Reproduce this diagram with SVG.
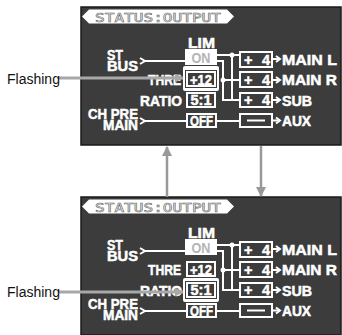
<svg xmlns="http://www.w3.org/2000/svg" xmlns:xlink="http://www.w3.org/1999/xlink" width="342" height="335" viewBox="0 0 342 335">
<style>
.scr{fill:#3c3c3c;stroke:#1a1a1a;stroke-width:1.5}
.t{font-family:"Liberation Sans","DejaVu Sans",sans-serif;font-weight:bold;fill:#fff;font-size:14.5px;stroke:#fff;stroke-width:0.5}
.tt{font-family:"DejaVu Sans Mono","Liberation Mono",monospace;fill:#fff;stroke:#666;stroke-width:0.6;font-size:13px}
.w{stroke:#fff;stroke-width:2;fill:none}
.bx{stroke:#fff;stroke-width:2;fill:#3c3c3c}
.ld{stroke:#a8a8a8;stroke-width:3;fill:none}
.lbl{font-family:"Liberation Sans",Arial,sans-serif;font-size:14px;fill:#111}
</style>
<defs>
<marker id="ah" viewBox="0 0 10 10" refX="9" refY="5" markerWidth="3" markerHeight="3" orient="auto"><path d="M0,0L10,5L0,10z" fill="#a8a8a8"/></marker>
<marker id="ag" viewBox="0 0 10 10" refX="9" refY="5" markerWidth="4" markerHeight="5" orient="auto"><path d="M0,0L10,5L0,10z" fill="#999"/></marker>
<g id="base">
<rect class="scr" x="81" y="7" width="260" height="138"/>
<polygon points="82,16.5 89,9.5 227,9.5 234,16.5 227,23.5 89,23.5" fill="#fff"/>
<text class="tt" x="95" y="21.5" textLength="126" lengthAdjust="spacingAndGlyphs">STATUS:OUTPUT</text>
<text class="t" x="188" y="48" textLength="27" lengthAdjust="spacingAndGlyphs">LIM</text>
<text class="t" x="107" y="60" textLength="16" lengthAdjust="spacingAndGlyphs">ST</text>
<text class="t" x="107" y="70.5" textLength="31" lengthAdjust="spacingAndGlyphs">BUS</text>
<text class="t" x="148" y="85" textLength="33" lengthAdjust="spacingAndGlyphs">THRE</text>
<text class="t" x="140" y="105.5" textLength="42" lengthAdjust="spacingAndGlyphs">RATIO</text>
<text class="t" x="88" y="118.5" textLength="50" lengthAdjust="spacingAndGlyphs">CH PRE</text>
<text class="t" x="103" y="129.5" textLength="35" lengthAdjust="spacingAndGlyphs">MAIN</text>
<polyline class="w" points="140,58 145,61 140,64"/>
<line class="w" x1="145" y1="61" x2="185" y2="61"/>
<polyline class="w" points="140,118 145,121 140,124"/>
<line class="w" x1="145" y1="121" x2="186" y2="121"/>
<rect x="185" y="49" width="32" height="16" fill="#fff"/>
<text class="t" x="201" y="62.5" text-anchor="middle" style="fill:#b4b4b4;stroke:none" textLength="19" lengthAdjust="spacingAndGlyphs">ON</text>
<rect class="bx" x="187" y="93" width="28" height="14"/>
<text class="t" x="201" y="105" text-anchor="middle" textLength="21" lengthAdjust="spacingAndGlyphs">5:1</text>
<rect class="bx" x="187" y="114" width="29" height="13"/>
<text class="t" x="201.5" y="125.5" text-anchor="middle" textLength="23" lengthAdjust="spacingAndGlyphs">OFF</text>
<g id="conn">
<polyline class="w" points="217,55 240,55"/>
<polyline class="w" points="217,61 223,61 223,100 240,100"/>
<polyline class="w" points="232,55 232,100"/>
<line class="w" x1="223" y1="80" x2="240" y2="80"/>
<circle cx="232" cy="55" r="2.5" fill="#fff"/>
<circle cx="223" cy="80" r="2.5" fill="#fff"/>
<line class="w" x1="216" y1="121" x2="240" y2="121"/>
</g>
<rect class="bx" x="240" y="52" width="32" height="15"/>
<rect class="bx" x="240" y="72" width="32" height="15"/>
<rect class="bx" x="240" y="93" width="32" height="14"/>
<rect class="bx" x="240" y="114" width="32" height="13"/>
<text class="t" x="244" y="64.5">+</text><text class="t" x="262" y="64.5">4</text>
<text class="t" x="244" y="84.5">+</text><text class="t" x="262" y="84.5">4</text>
<text class="t" x="244" y="105">+</text><text class="t" x="262" y="105">4</text>
<line class="w" x1="247" y1="120.5" x2="265" y2="120.5"/>
<line class="w" x1="272" y1="59" x2="280" y2="59"/><polyline class="w" points="276,56 280,59 276,62"/>
<line class="w" x1="272" y1="80" x2="280" y2="80"/><polyline class="w" points="276,77 280,80 276,83"/>
<line class="w" x1="272" y1="100" x2="280" y2="100"/><polyline class="w" points="276,97 280,100 276,103"/>
<line class="w" x1="272" y1="120.5" x2="280" y2="120.5"/><polyline class="w" points="276,117.5 280,120.5 276,123.5"/>
<text class="t" x="282" y="65" textLength="55" lengthAdjust="spacingAndGlyphs">MAIN L</text>
<text class="t" x="282" y="85" textLength="55" lengthAdjust="spacingAndGlyphs">MAIN R</text>
<text class="t" x="282" y="105.5" textLength="30" lengthAdjust="spacingAndGlyphs">SUB</text>
<text class="t" x="282" y="125.5" textLength="29" lengthAdjust="spacingAndGlyphs">AUX</text>
</g>
</defs>
<g id="screen-top">
<use xlink:href="#base"/>
<rect x="183" y="66" width="36" height="25" rx="2" fill="#fff"/>
<rect x="185" y="70" width="32" height="18" fill="#3c3c3c"/>
<rect class="bx" x="187" y="72" width="28" height="14"/>
<text class="t" x="201" y="84.5" text-anchor="middle" textLength="22" lengthAdjust="spacingAndGlyphs">+12</text>
</g>
<g id="screen-bottom" transform="translate(0,190)">
<use xlink:href="#base"/>
<rect class="bx" x="187" y="72" width="28" height="14"/>
<text class="t" x="201" y="84.5" text-anchor="middle" textLength="22" lengthAdjust="spacingAndGlyphs">+12</text>
<rect x="183" y="88" width="36" height="24" rx="2" fill="#fff"/>
<rect x="185" y="91" width="32" height="18" fill="#3c3c3c"/>
<rect class="bx" x="187" y="93" width="28" height="14"/>
<text class="t" x="201" y="105" text-anchor="middle" textLength="21" lengthAdjust="spacingAndGlyphs">5:1</text>
</g>
<g id="connectors">
<line x1="167" y1="197" x2="167" y2="147" stroke="#999" stroke-width="2.5" marker-end="url(#ag)"/>
<line x1="261" y1="146" x2="261" y2="196" stroke="#999" stroke-width="2.5" marker-end="url(#ag)"/>
<line class="ld" x1="58" y1="78" x2="183" y2="78" marker-end="url(#ah)"/>
<line class="ld" x1="58" y1="292" x2="183" y2="292" marker-end="url(#ah)"/>
</g>
<g id="flash-top"><text class="lbl" x="7" y="84">Flashing</text></g>
<g id="flash-bottom"><text class="lbl" x="7" y="297">Flashing</text></g>
</svg>
